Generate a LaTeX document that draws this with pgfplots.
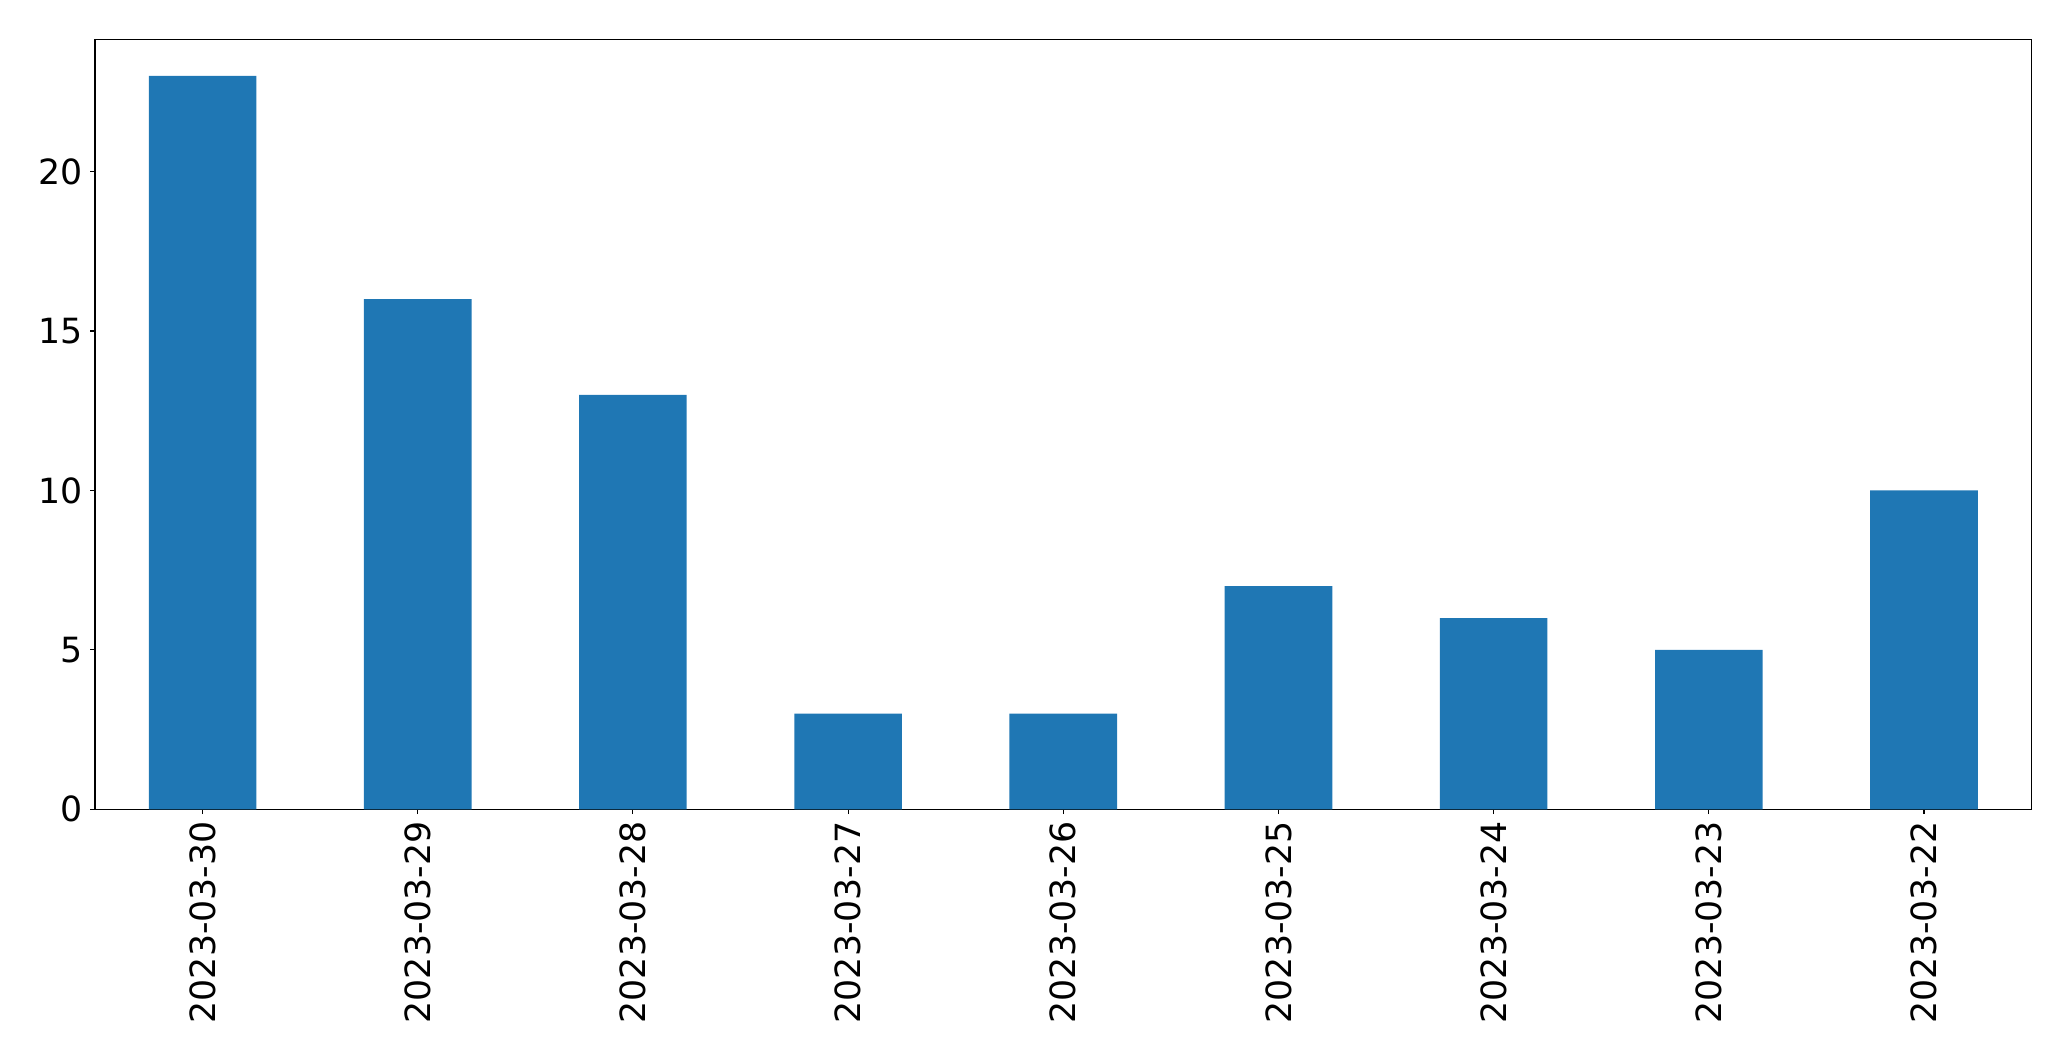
\documentclass[border=0pt]{standalone}
\usepackage{fontspec}
\setmainfont{DejaVu Sans}
\usepackage{pgfplots}
\pgfplotsset{compat=1.18}
\definecolor{mplblue}{HTML}{1F77B4}
\begin{document}
\begin{tikzpicture}
\path[use as bounding box] (0,0) rectangle (1491.1pt,763.9pt);
\begin{axis}[
  at={(68.4pt,181.2pt)}, anchor=south west,
  width=1394.4pt, height=554.4pt, scale only axis,
  xmin=-0.5, xmax=8.5, ymin=0, ymax=24.15,
  xtick={0,1,2,3,4,5,6,7,8},
  xticklabels={2023-03-30,2023-03-29,2023-03-28,2023-03-27,2023-03-26,2023-03-25,2023-03-24,2023-03-23,2023-03-22},
  ytick={0,5,10,15,20},
  tick pos=left, tick align=outside,
  major tick length=3.5pt,
  every tick/.style={black, line width=0.8pt},
  axis line style={line width=0.8pt},
  /pgf/number format/assume math mode=true,
  tick label style={font=\fontsize{25}{30}\selectfont},
  xticklabel style={rotate=90, anchor=east, inner sep=0pt, xshift=-5pt},
  yticklabel style={inner sep=0pt, xshift=-5.5pt},
  axis on top=false,
]
\addplot[ybar, bar width=0.5, fill=mplblue, draw=none] coordinates {
(0,23) (1,16) (2,13) (3,3) (4,3) (5,7) (6,6) (7,5) (8,10)
};
\end{axis}
\end{tikzpicture}
\end{document}
